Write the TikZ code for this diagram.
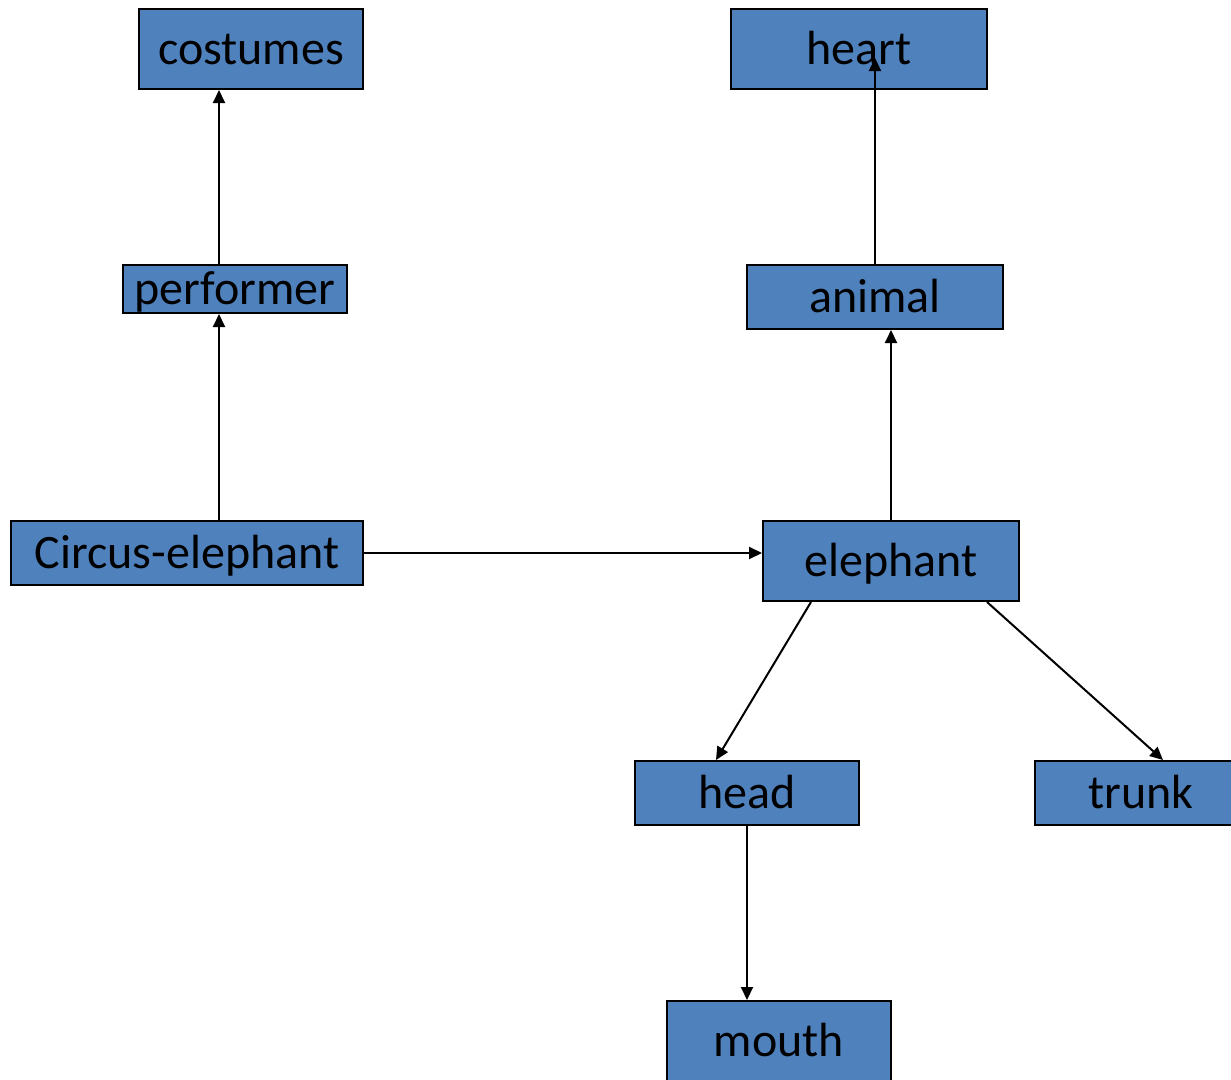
\documentclass[tikz,border=0pt]{standalone}
\usepackage{fontspec}
\setmainfont{Carlito}
\usetikzlibrary{arrows.meta}
\definecolor{boxblue}{HTML}{4F81BD}
\begin{document}
\begin{tikzpicture}[x=1pt,y=-1pt,
  box/.style={draw=black,line width=2pt,fill=boxblue,inner sep=0pt,
    text height=30pt,text depth=0pt,font=\fontsize{48}{50}\selectfont,
    minimum width=#1},
  arr/.style={line width=2pt,-{Triangle[length=13pt,width=12pt]}}]
\useasboundingbox (0,0) rectangle (1231,1079);
\node[box=224pt,minimum height=80pt] (costumes) at (251,49) {costumes};
\node[box=256pt,minimum height=80pt] (heart) at (859,49) {heart};
\node[box=224pt,minimum height=48pt] (performer) at (235,289) {performer};
\node[box=256pt,minimum height=64pt] (animal) at (875,297) {animal};
\node[box=352pt,minimum height=64pt] (circus) at (187,553) {Circus-elephant};
\node[box=256pt,minimum height=80pt] (elephant) at (891,561) {elephant};
\node[box=224pt,minimum height=64pt] (head) at (747,793) {head};
\node[box=212pt,minimum height=64pt] (trunk) at (1141,793) {trunk};
\node[box=224pt,minimum height=80pt] (mouth) at (779,1041) {mouth};
\coordinate (hin) at (875,58);
\draw[arr] (performer.north -| 219,0) -- (costumes.south -| 219,0);
\draw[arr] (circus.north -| 219,0) -- (performer.south -| 219,0);
\draw[arr] (circus.east) -- (circus.east -| elephant.west);
\draw[arr] (elephant.north) -- (elephant.north |- animal.south);
\draw[arr] (animal.north) -- (hin);
\draw[arr] ([xshift=-80pt]elephant.south) -- ([xshift=-31pt]head.north);
\draw[arr] ([xshift=96pt]elephant.south) -- ([xshift=22pt]trunk.north);
\draw[arr] (head.south) -- (head.south |- mouth.north);
\end{tikzpicture}
\end{document}
